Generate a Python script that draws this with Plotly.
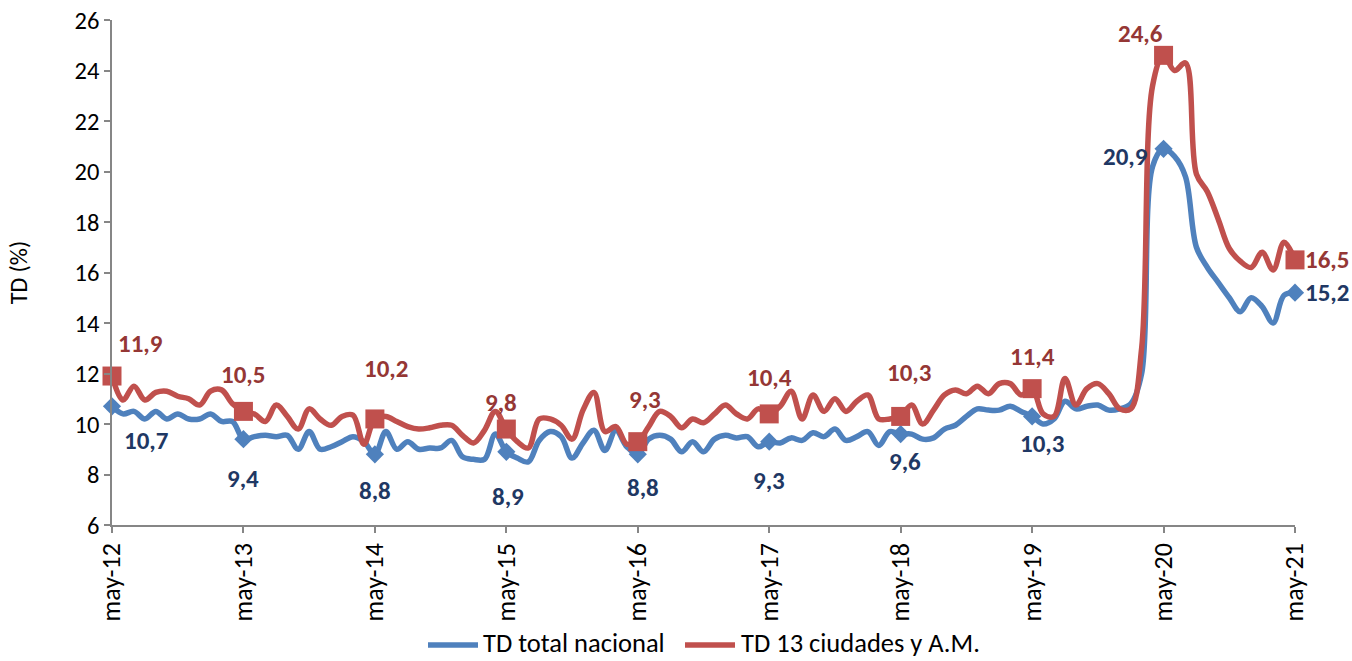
import plotly.graph_objects as go

# ---- data (monthly, may-2012 .. may-2021) ----
tick_labels = ["may-12", "may-13", "may-14", "may-15", "may-16",
               "may-17", "may-18", "may-19", "may-20", "may-21"]

td_nacional = [
    10.7, 10.4, 10.5, 10.2, 10.5, 10.2, 10.4, 10.2, 10.2, 10.4, 10.1, 10.1,   # may-12 .. apr-13
    9.4, 9.5, 9.55, 9.5, 9.55, 9.0, 9.7, 9.0, 9.1, 9.3, 9.5, 9.3,              # may-13 ..
    8.8, 9.7, 9.0, 9.3, 9.0, 9.05, 9.05, 9.35, 8.7, 8.6, 8.6, 9.6,             # may-14 ..
    8.9, 8.65, 8.5, 9.35, 9.7, 9.5, 8.65, 9.25, 9.75, 8.95, 9.75, 9.1,         # may-15 ..
    8.8, 9.4, 9.55, 9.4, 8.9, 9.3, 8.9, 9.4, 9.55, 9.45, 9.5, 9.1,             # may-16 ..
    9.3, 9.25, 9.45, 9.35, 9.65, 9.5, 9.8, 9.35, 9.5, 9.7, 9.15, 9.7,          # may-17 ..
    9.6, 9.6, 9.4, 9.45, 9.8, 9.95, 10.3, 10.6, 10.55, 10.55, 10.7, 10.5,      # may-18 ..
    10.3, 10.0, 10.2, 10.9, 10.6, 10.7, 10.75, 10.55, 10.6, 10.8, 12.0, 20.2,  # may-19 ..
    20.9, 20.6, 19.8, 17.0, 16.2, 15.6, 15.0, 14.45, 15.0, 14.65, 14.0, 15.1,  # may-20 ..
    15.2,                                                                      # may-21
]

td_13_ciudades = [
    11.9, 10.95, 11.5, 10.95, 11.25, 11.3, 11.1, 11.0, 10.75, 11.3, 11.35, 10.8,
    10.5, 10.4, 10.1, 10.75, 10.3, 9.8, 10.6, 10.2, 9.95, 10.3, 10.35, 9.2,
    10.2, 10.3, 10.1, 9.9, 9.8, 9.85, 9.95, 9.95, 9.55, 9.25, 9.75, 10.5,
    9.8, 9.3, 9.05, 10.2, 10.2, 9.95, 9.4, 10.55, 11.25, 9.7, 9.9, 9.2,
    9.3, 9.9, 10.5, 10.3, 9.85, 10.2, 10.05, 10.4, 10.75, 10.4, 10.2, 10.6,
    10.4, 10.7, 11.3, 10.2, 11.15, 10.5, 11.0, 10.5, 10.9, 11.15, 10.2, 10.2,
    10.3, 10.75, 10.0, 10.55, 11.15, 11.35, 11.2, 11.5, 11.2, 11.6, 11.6, 11.15,
    11.4, 10.4, 10.3, 11.8, 10.75, 11.4, 11.6, 11.2, 10.6, 10.6, 13.0, 23.4,
    24.6, 24.0, 24.3, 19.9, 19.2, 18.1, 16.95, 16.45, 16.2, 16.8, 16.1, 17.2,
    16.5,
]

series_names = ["TD total nacional", "TD 13 ciudades y A.M."]

# ---- styling ----
FONT = "Carlito, Calibri, Lato, sans-serif"
BLUE = "#4F81BD"
RED = "#C0504D"
BLUE_TXT = "#1F3864"
RED_TXT = "#953735"
AXIS = "#868686"

W, H = 1352, 661
ML, MR, MT, MB = 112, 57, 20, 136
PW, PH = W - ML - MR, H - MT - MB


def px_to_paper_x(px):
    return (px - ML) / PW


def px_to_paper_y(py):
    return (H - MB - py) / PH


months = list(range(len(td_nacional)))
may_idx = months[::12]

# label offsets (pixels) for each yearly label
red_off = [(28, 33), (0, 37), (11, 50), (-5, 27), (7, 42), (0, 36), (8, 44), (0, 32), (-23, 22), (32, 0)]
blue_off = [(34, -34), (0, -39), (0, -36), (2, -45), (5, -33), (0, -39), (4, -27), (10, -27), (-38, -8), (32, 0)]

fig = go.Figure()

fig.add_trace(go.Scatter(
    x=months, y=td_nacional, mode="lines", name=series_names[0],
    line=dict(color=BLUE, width=5.5, shape="spline", smoothing=1.0),
))
fig.add_trace(go.Scatter(
    x=months, y=td_13_ciudades, mode="lines", name=series_names[1],
    line=dict(color=RED, width=5.5, shape="spline", smoothing=1.0),
))
fig.add_trace(go.Scatter(
    x=may_idx, y=[td_nacional[i] for i in may_idx], mode="markers",
    marker=dict(symbol="diamond", size=14, color=BLUE),
    showlegend=False, cliponaxis=False, hoverinfo="skip",
))
fig.add_trace(go.Scatter(
    x=may_idx, y=[td_13_ciudades[i] for i in may_idx], mode="markers",
    marker=dict(symbol="square", size=19, color=RED),
    showlegend=False, cliponaxis=False, hoverinfo="skip",
))


def fmt(v):
    return f"{v:.1f}".replace(".", ",")


annotations = []
for k, i in enumerate(may_idx):
    dx, dy = red_off[k]
    annotations.append(dict(
        x=i, y=td_13_ciudades[i], text="<b>" + fmt(td_13_ciudades[i]) + "</b>", showarrow=False,
        xshift=dx, yshift=dy, font=dict(family=FONT, size=25, color=RED_TXT),
        xanchor="center", yanchor="middle",
    ))
    dx, dy = blue_off[k]
    annotations.append(dict(
        x=i, y=td_nacional[i], text="<b>" + fmt(td_nacional[i]) + "</b>", showarrow=False,
        xshift=dx, yshift=dy, font=dict(family=FONT, size=25, color=BLUE_TXT),
        xanchor="center", yanchor="middle",
    ))

# ---- custom legend (line sample + text), positioned in pixels ----
legend_y = 643
legend_items = [(series_names[0], BLUE, 428, 478, 482), (series_names[1], RED, 685, 735, 740)]
shapes = []
for name, col, x0, x1, tx in legend_items:
    shapes.append(dict(
        type="line", xref="paper", yref="paper",
        x0=px_to_paper_x(x0), x1=px_to_paper_x(x1),
        y0=px_to_paper_y(legend_y + 2), y1=px_to_paper_y(legend_y + 2),
        line=dict(color=col, width=5.5),
    ))
    annotations.append(dict(
        xref="paper", yref="paper", x=px_to_paper_x(tx), y=px_to_paper_y(legend_y),
        text=name, showarrow=False, xanchor="left", yanchor="middle",
        borderpad=0, font=dict(family=FONT, size=26.5, color="#000000"),
    ))

fig.update_layout(
    width=W, height=H,
    margin=dict(l=ML, r=MR, t=MT, b=MB, autoexpand=False),
    paper_bgcolor="white", plot_bgcolor="white",
    font=dict(family=FONT, size=24, color="#000000"),
    annotations=annotations,
    shapes=shapes,
    showlegend=False,
)

fig.update_xaxes(
    range=[0, 108], tickmode="array", tickvals=may_idx, ticktext=tick_labels,
    tickangle=-90, ticks="outside", ticklen=6, tickcolor=AXIS, tickwidth=1.5,
    showline=True, linecolor=AXIS, linewidth=1.5, showgrid=False, zeroline=False,
    tickfont=dict(family=FONT, size=26, color="#000000"),
)
fig.update_yaxes(
    range=[6, 26], dtick=2, ticks="outside", ticklen=6, tickcolor=AXIS, tickwidth=1.5,
    showline=True, linecolor=AXIS, linewidth=1.5, showgrid=False, zeroline=False,
    tickfont=dict(family=FONT, size=24.5, color="#000000"),
    title=dict(text="TD (%)", standoff=40, font=dict(family=FONT, size=24, color="#000000")),
)

fig.write_html(
    "out.html",
    config={"displayModeBar": False},
    post_script="document.body.style.margin='0';document.body.style.overflow='hidden';",
)
